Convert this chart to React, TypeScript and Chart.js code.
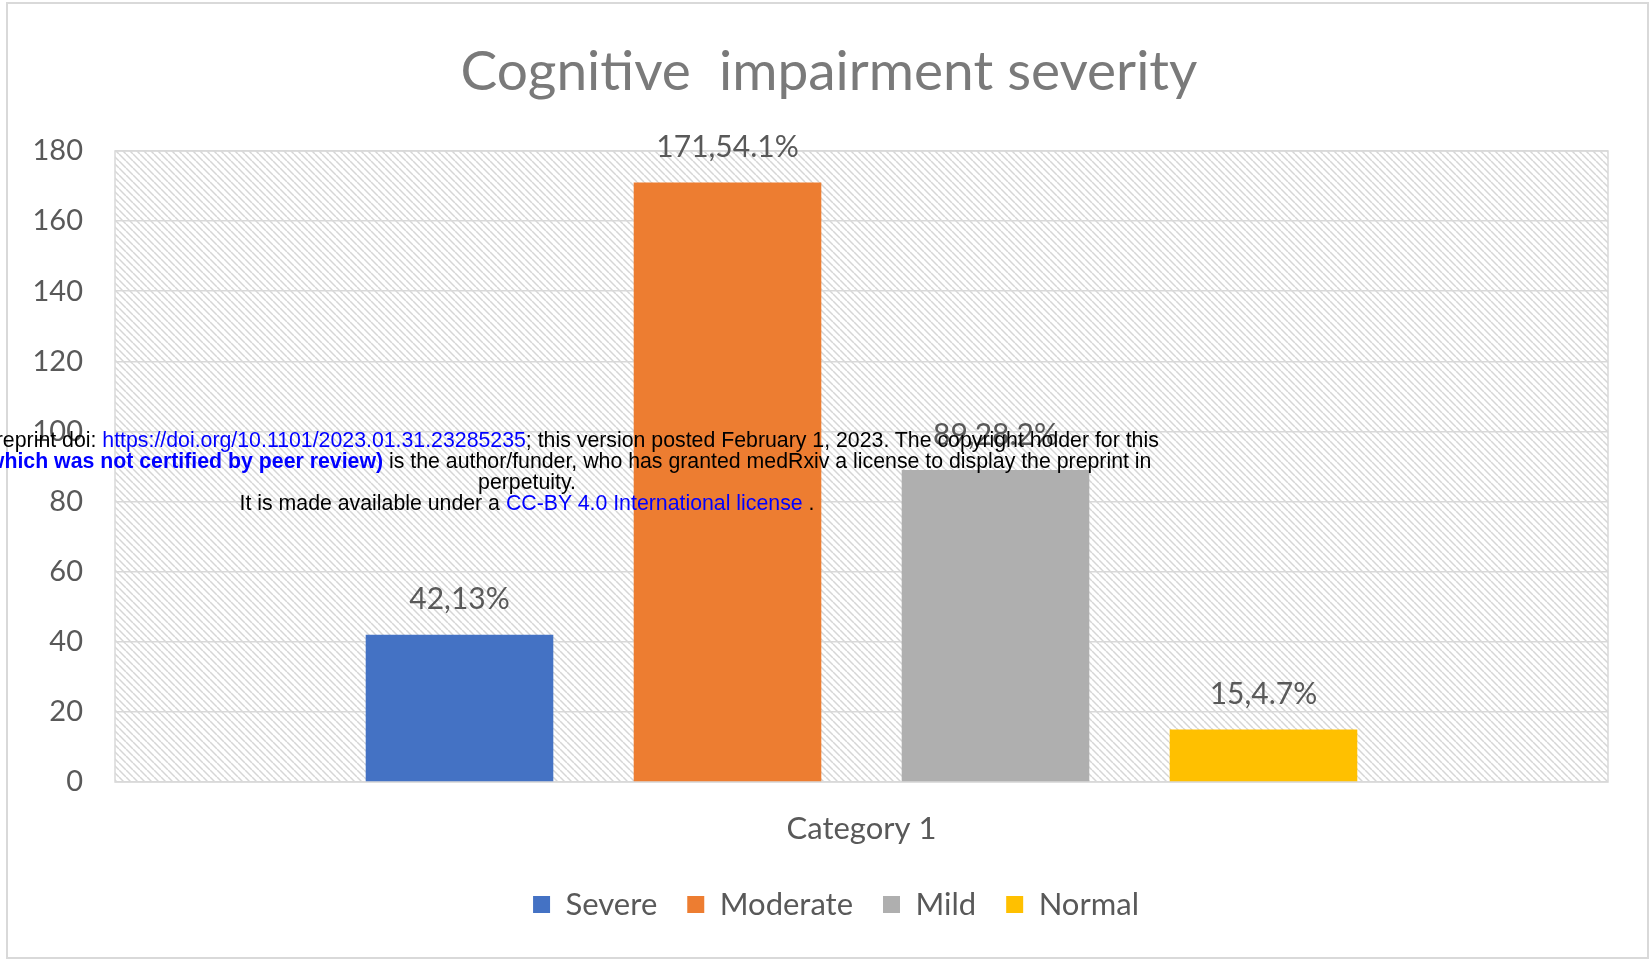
import React, { useEffect, useRef } from "react";
import { Chart, registerables } from "chart.js";

Chart.register(...registerables);

const categories = ["Category 1"];
const seriesNames = ["Severe", "Moderate", "Mild", "Normal"];
const seriesValues = [42, 171, 89, 15];
const seriesLabels = ["42,13%", "171,54.1%", "89,28.2%", "15,4.7%"];
const seriesColors = ["#4472C4", "#ED7D31", "#AFAFAF", "#FFC000"];
const yMin = 0;
const yMax = 180;
const yStep = 20;
const titleText = "Cognitive  impairment severity";

const FONT = "Lato, 'Open Sans', sans-serif";

function makePattern(ctx: CanvasRenderingContext2D) {
  const p = 7;
  const c = document.createElement("canvas");
  c.width = p;
  c.height = p;
  const g = c.getContext("2d")!;
  g.fillStyle = "#ffffff";
  g.fillRect(0, 0, p, p);
  g.strokeStyle = "#d6d6d6";
  g.lineWidth = 1.5;
  for (const off of [-p, 0, p]) {
    g.beginPath();
    g.moveTo(off, 0);
    g.lineTo(off + p, p);
    g.stroke();
  }
  return ctx.createPattern(c, "repeat")!;
}

const shiftPlugin = {
  id: "shiftBoxes",
  afterLayout(chart: any) {
    const t = chart.titleBlock;
    if (t) {
      t.left += 15;
      t.right += 15;
    }
    const l = chart.legend;
    if (l) {
      l.left += 22;
      l.right += 22;
    }
  },
};

const backgroundPlugin = {
  id: "bgHatch",
  beforeDraw(chart: any) {
    const { ctx, chartArea, width, height } = chart;
    ctx.save();
    ctx.fillStyle = "#ffffff";
    ctx.fillRect(0, 0, width, height);
    ctx.strokeStyle = "#d9d9d9";
    ctx.lineWidth = 2;
    ctx.strokeRect(7, 3, width - 10, height - 6);
    ctx.fillStyle = makePattern(ctx);
    ctx.fillRect(chartArea.left, chartArea.top, chartArea.right - chartArea.left, chartArea.bottom - chartArea.top);
    ctx.strokeStyle = "#d9d9d9";
    ctx.lineWidth = 1.5;
    ctx.strokeRect(chartArea.left, chartArea.top, chartArea.right - chartArea.left, chartArea.bottom - chartArea.top);
    ctx.restore();
  },
};

const valueLabelPlugin = {
  id: "valueLabels",
  afterDatasetsDraw(chart: any) {
    const { ctx } = chart;
    ctx.save();
    ctx.font = `30px ${FONT}`;
    ctx.fillStyle = "#595959";
    ctx.textAlign = "center";
    ctx.textBaseline = "middle";
    chart.data.datasets.forEach((ds: any, i: number) => {
      const meta = chart.getDatasetMeta(i);
      meta.data.forEach((el: any) => {
        ctx.fillText(seriesLabels[i], el.x, el.y - 35);
      });
    });
    ctx.restore();
  },
};

const overlayLines: { text: string; color?: string; bold?: boolean }[][] = [
  [
    { text: "medRxiv preprint doi: " },
    { text: "https://doi.org/10.1101/2023.01.31.23285235", color: "#0000ff" },
    { text: "; this version posted February 1, 2023. The copyright holder for this" },
  ],
  [
    { text: "preprint " },
    { text: "(which was not certified by peer review)", color: "#0000ff", bold: true },
    { text: " is the author/funder, who has granted medRxiv a license to display the preprint in" },
  ],
  [{ text: "perpetuity." }],
  [
    { text: "It is made available under a " },
    { text: "CC-BY 4.0 International license", color: "#0000ff" },
    { text: " ." },
  ],
];

export default function App() {
  const canvasRef = useRef<HTMLCanvasElement | null>(null);

  useEffect(() => {
    const canvas = canvasRef.current;
    if (!canvas) return;
    const chart = new Chart(canvas, {
      type: "bar",
      data: {
        labels: categories,
        datasets: seriesNames.map((name, i) => ({
          label: name,
          data: [seriesValues[i]],
          backgroundColor: seriesColors[i],
          borderWidth: 0,
          categoryPercentage: 0.718,
          barPercentage: 0.7,
        })),
      },
      options: {
        responsive: false,
        animation: false,
        devicePixelRatio: 1,
        layout: { padding: { left: 20, right: 43, top: 0, bottom: 31 } },
        plugins: {
          title: {
            display: true,
            text: titleText,
            color: "#7a7a7a",
            font: { family: FONT, size: 55, weight: "normal" },
            padding: { top: 39, bottom: 46 },
          },
          legend: {
            display: true,
            position: "bottom",
            labels: {
              font: { family: FONT, size: 31 },
              color: "#595959",
              boxWidth: 17,
              boxHeight: 17,
              padding: 30,
            },
          },
          tooltip: { enabled: false },
        },
        scales: {
          x: {
            grid: { display: false, drawTicks: false },
            border: { display: false },
            ticks: { font: { family: FONT, size: 31 }, color: "#595959", padding: 28 },
            afterFit: (scale: any) => {
              scale.height = 77;
            },
          },
          y: {
            min: yMin,
            max: yMax,
            ticks: { stepSize: yStep, font: { family: FONT, size: 29 }, color: "#595959", padding: 32 },
            grid: { color: "#d9d9d9", lineWidth: 1.5, drawTicks: false },
            border: { display: false },
            afterFit: (scale: any) => {
              scale.width = 95;
            },
          },
        },
      },
      plugins: [shiftPlugin, backgroundPlugin, valueLabelPlugin],
    } as any);
    return () => chart.destroy();
  }, []);

  return (
    <div style={{ position: "absolute", left: 0, top: 0, width: 1651, height: 961, overflow: "hidden", background: "#fff" }}>
      <canvas ref={canvasRef} width={1651} height={961} style={{ display: "block", width: 1651, height: 961 }} />
      {overlayLines.map((line, li) => (
        <div
          key={li}
          style={{
            position: "absolute",
            left: 527,
            top: 430 + li * 21,
            transform: "translateX(-50%)",
            whiteSpace: "nowrap",
            fontFamily: "'Liberation Sans', Arial, sans-serif",
            fontSize: 21.3,
            lineHeight: "21px",
            color: "#000",
          }}
        >
          {line.map((seg, si) => (
            <span key={si} style={{ color: seg.color || "#000", fontWeight: seg.bold ? "bold" : "normal" }}>
              {seg.text}
            </span>
          ))}
        </div>
      ))}
    </div>
  );
}
